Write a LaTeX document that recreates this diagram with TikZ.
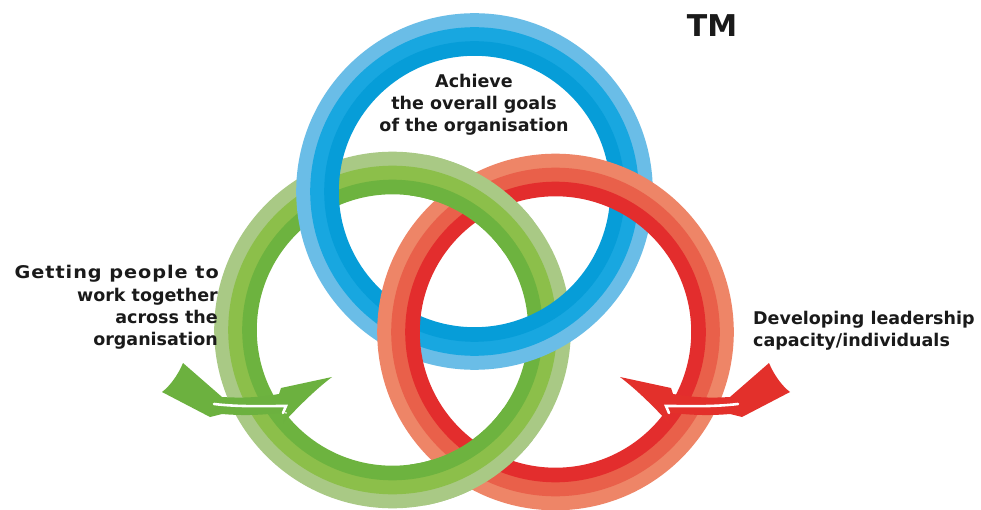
\documentclass[tikz,border=0pt]{standalone}
\usepackage{fontspec}
\setmainfont{DejaVu Sans}
\definecolor{bOut}{HTML}{6ABDE7}
\definecolor{bMid}{HTML}{18A7E0}
\definecolor{bIn}{HTML}{069DD8}
\definecolor{gOut}{HTML}{A9C985}
\definecolor{gMid}{HTML}{8CBF4A}
\definecolor{gIn}{HTML}{6DB33F}
\definecolor{rOut}{HTML}{EE8567}
\definecolor{rMid}{HTML}{E9604A}
\definecolor{rIn}{HTML}{E32D2D}
\definecolor{gArrow}{HTML}{6CB13F}
\definecolor{rArrow}{HTML}{E3302B}
\definecolor{txt}{HTML}{1A1A1A}
\begin{document}
\begin{tikzpicture}[x=1pt,y=-1pt,
  band/.style={line width=14.6pt},
  lbl/.style={inner sep=0pt, text=txt, font=\bfseries\fontsize{17.5}{21}\selectfont},
  tmlbl/.style={inner sep=0pt, text=txt, font=\bfseries\fontsize{30}{32}\selectfont},
  stripe/.style={white, line width=2.6pt, line cap=round}]
\useasboundingbox (0,0) rectangle (981,510);
\fill[white] (0,0) rectangle (981,510);
\coordinate (G) at (392.5,330);
\coordinate (B) at (474.5,191.5);
\coordinate (R) at (555.5,332);
% green ring
\draw[band, gOut] (G) circle[radius=171];
\draw[band, gMid] (G) circle[radius=157];
\draw[band, gIn]  (G) circle[radius=143];
% blue ring
\draw[band, bOut] (B) circle[radius=171];
\draw[band, bMid] (B) circle[radius=157];
\draw[band, bIn]  (B) circle[radius=143];
% red ring
\draw[band, rOut] (R) circle[radius=171];
\draw[band, rMid] (R) circle[radius=157];
\draw[band, rIn]  (R) circle[radius=143];
% green over red at both green-red crossings
\begin{scope}
  \clip (474,197) circle[radius=64] (474,465) circle[radius=64];
  \draw[band, gOut] (G) circle[radius=171];
  \draw[band, gMid] (G) circle[radius=157];
  \draw[band, gIn]  (G) circle[radius=143];
\end{scope}
% green arrow
\fill[gArrow] (332,377) -- (281,388) -- (279,394)
  .. controls (255,398) and (240,398) .. (222,397)
  -- (183,363) .. controls (178,375) and (170,386) .. (162,392)
  -- (210,417) -- (222,414)
  .. controls (245,416) and (265,415) .. (287,412)
  -- (283,423) .. controls (300,405) and (315,390) .. cycle;
\draw[stripe] (214,404) .. controls (240,407) and (262,406) .. (286,406) -- (283,413);
% red arrow (mirror image)
\begin{scope}[shift={(952,0)}, xscale=-1]
\fill[rArrow] (332,377) -- (281,388) -- (279,394)
  .. controls (255,398) and (240,398) .. (222,397)
  -- (183,363) .. controls (178,375) and (170,386) .. (162,392)
  -- (210,417) -- (222,414)
  .. controls (245,416) and (265,415) .. (287,412)
  -- (283,423) .. controls (300,405) and (315,390) .. cycle;
\draw[stripe] (214,404) .. controls (240,407) and (262,406) .. (286,406) -- (283,413);
\end{scope}
% texts
\node[tmlbl, anchor=base] (tm) at (712,37) {TM};
\node[lbl, anchor=base] (c1) at (474,88) {Achieve};
\node[lbl, anchor=base] (c2) at (474,110) {the overall goals};
\node[lbl, anchor=base] (c3) at (474,132) {of the organisation};
\node[lbl, anchor=base east, transform shape, xscale=1.1] (l1) at (219,278) {\addfontfeature{LetterSpace=5}Getting people to};
\node[lbl, anchor=base east] (l2) at (218,301) {work together};
\node[lbl, anchor=base east] (l3) at (218,323) {across the};
\node[lbl, anchor=base east] (l4) at (218,345) {organisation};
\node[lbl, anchor=base west] (r1) at (753,324) {Developing leadership};
\node[lbl, anchor=base west] (r2) at (753,346) {capacity/individuals};
\end{tikzpicture}
\end{document}
